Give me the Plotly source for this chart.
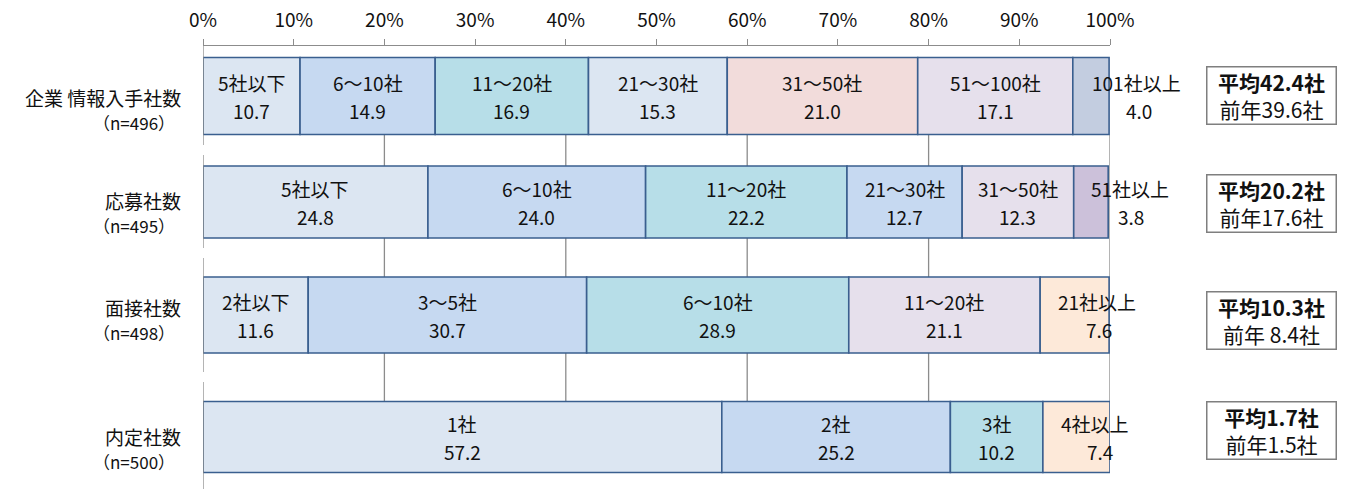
import plotly.graph_objects as go

# --- data -------------------------------------------------------------
rows = ["企業 情報入手社数", "応募社数", "面接社数", "内定社数"]
row_n = ["（n=496）", "（n=495）", "（n=498）", "（n=500）"]

seg_labels = [
    ["5社以下", "6～10社", "11～20社", "21～30社", "31～50社", "51～100社", "101社以上"],
    ["5社以下", "6～10社", "11～20社", "21～30社", "31～50社", "51社以上"],
    ["2社以下", "3～5社", "6～10社", "11～20社", "21社以上"],
    ["1社", "2社", "3社", "4社以上"],
]
seg_values = [
    [10.7, 14.9, 16.9, 15.3, 21.0, 17.1, 4.0],
    [24.8, 24.0, 22.2, 12.7, 12.3, 3.8],
    [11.6, 30.7, 28.9, 21.1, 7.6],
    [57.2, 25.2, 10.2, 7.4],
]
avg_now = ["42.4", "20.2", "10.3", "1.7"]
avg_prev = ["39.6", "17.6", " 8.4", "1.5"]

# --- styling / layout helpers ----------------------------------------
seg_colors = [
    ["#dce6f2", "#c6d9f1", "#b7dee8", "#dce6f2", "#f2dcdb", "#e6e0ec", "#c3cde0"],
    ["#dce6f2", "#c6d9f1", "#b7dee8", "#c6d9f1", "#e6e0ec", "#ccc1da"],
    ["#dce6f2", "#c6d9f1", "#b7dee8", "#e6e0ec", "#fde9d9"],
    ["#dce6f2", "#c6d9f1", "#b7dee8", "#fde9d9"],
]
row_pos = [50, 156, 269, 391]          # bar centres on the numeric y axis
row_thick = [77, 72, 76, 71]           # bar thickness
head_shift = [46, 39, 22, 19]          # push the tiny last-segment labels right
val_shift = [48, 40, 24, 24]
name_shift = [2, -1, -7, 0]            # left-hand row titles, vertical nudge
box_shift = [1, -1, -5, 7]             # average boxes, vertical nudge
bracket_bounds = [0, 104, 207, 331, 443]

FONT = "Noto Sans CJK JP"
EDGE = "#3a5f8f"
GRID = "#8c8c8c"
INK = "#111111"

fig = go.Figure()
annotations = []

for r, (labels, vals, cols) in enumerate(zip(seg_labels, seg_values, seg_colors)):
    base = 0.0
    last = len(labels) - 1
    for i, (lab, v, c) in enumerate(zip(labels, vals, cols)):
        fig.add_trace(go.Bar(
            orientation="h", x=[v], y=[row_pos[r]], base=[base],
            width=row_thick[r], marker=dict(color=c, line=dict(color=EDGE, width=1.6)),
            showlegend=False, hoverinfo="skip",
        ))
        mid = base + v / 2
        annotations.append(dict(x=mid, y=row_pos[r], text=lab, showarrow=False,
                                xanchor="center", yshift=14,
                                xshift=head_shift[r] if i == last else 0,
                                font=dict(size=19, color=INK)))
        annotations.append(dict(x=mid, y=row_pos[r], text=f"{v:.1f}", showarrow=False,
                                xanchor="center", yshift=-14,
                                xshift=val_shift[r] if i == last else 0,
                                font=dict(size=19, color=INK)))
        base += v

    # row title on the left
    annotations.append(dict(xref="paper", x=-0.022, y=row_pos[r], text=rows[r],
                            xanchor="right", showarrow=False,
                            yshift=-name_shift[r] + 1,
                            font=dict(size=19, color=INK)))
    annotations.append(dict(xref="paper", x=-0.0287, y=row_pos[r], text=row_n[r],
                            xanchor="right", showarrow=False,
                            yshift=-name_shift[r] - 24,
                            font=dict(size=17, color=INK)))

    # average box on the right
    annotations.append(dict(
        xref="paper", x=1.1786, y=row_pos[r], yshift=box_shift[r],
        xanchor="center", yanchor="middle",
        text=f"<b>平均{avg_now[r]}社</b><br>前年{avg_prev[r]}社",
        showarrow=False, align="center", width=126, height=54,
        bordercolor="#7f7f7f", borderwidth=1.5, bgcolor="white",
        font=dict(size=21, color=INK),
    ))

shapes = []
# vertical grid lines between the bars
y_top = row_pos[0] + row_thick[0] / 2
y_bot = row_pos[-1] - row_thick[-1] / 2
for gx in (20, 40, 60, 80, 100):
    shapes.append(dict(type="line", x0=gx, x1=gx, y0=y_top, y1=y_bot,
                       line=dict(color=GRID, width=1.3), layer="below"))

# category brackets along the left axis
for k in range(len(rows)):
    y0 = bracket_bounds[k] + (5 if k > 0 else 0)
    y1 = bracket_bounds[k + 1] - (5 if k < len(rows) - 1 else 0)
    shapes.append(dict(type="line", x0=0, x1=0, y0=y0, y1=y1,
                       line=dict(color=GRID, width=1.3)))
    if k > 0:
        shapes.append(dict(type="line", x0=-0.6, x1=0, y0=y0, y1=y0,
                           line=dict(color=GRID, width=1.3)))
    if k < len(rows) - 1:
        shapes.append(dict(type="line", x0=-0.6, x1=0, y0=y1, y1=y1,
                           line=dict(color=GRID, width=1.3)))

fig.update_layout(
    width=1359, height=489,
    margin=dict(l=203, r=249, t=46, b=0),
    paper_bgcolor="white", plot_bgcolor="white",
    barmode="overlay",
    font=dict(family=FONT, color=INK),
    annotations=annotations, shapes=shapes,
    xaxis=dict(
        range=[0, 100], side="top", tickmode="array",
        tickvals=list(range(0, 101, 10)),
        ticktext=[f"{t}%" for t in range(0, 101, 10)],
        ticks="outside", ticklen=6, tickcolor=GRID, tickwidth=1.3,
        showline=True, linecolor=GRID, linewidth=1.3,
        showgrid=False, zeroline=False, fixedrange=True,
        ticklabelstandoff=4,
        tickfont=dict(size=19, color=INK),
    ),
    yaxis=dict(range=[443, 0], showticklabels=False, showgrid=False,
               zeroline=False, showline=False, ticks="", fixedrange=True),
)

fig.write_html("out.html")
